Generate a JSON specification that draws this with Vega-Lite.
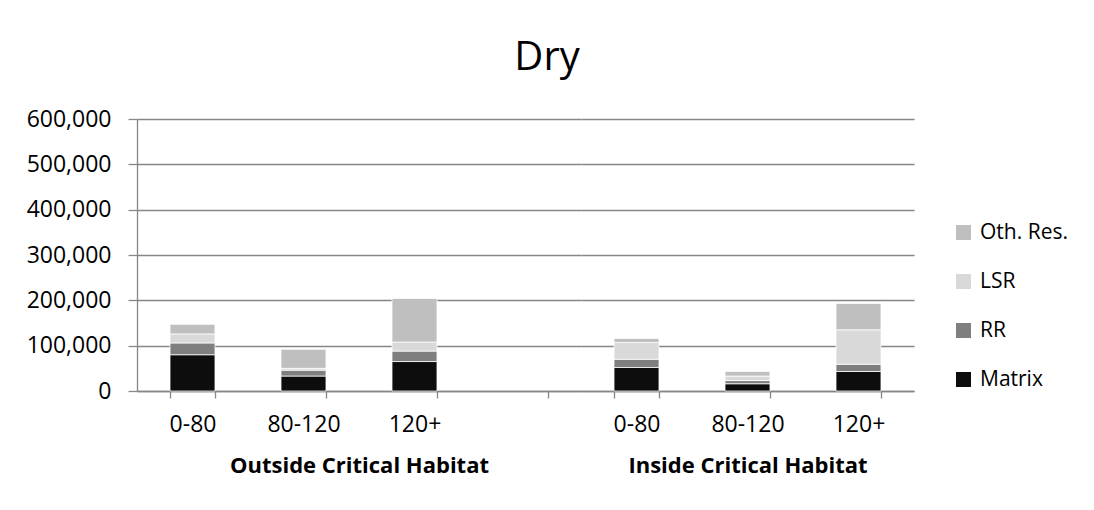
{
  "$schema": "https://vega.github.io/schema/vega-lite/v6.json",
  "background": "white",
  "padding": {"left": 26, "top": 38, "right": 5, "bottom": 5},
  "title": {"text": "Dry", "fontSize": 40, "font": "Open Sans", "fontWeight": "normal", "color": "#000000", "anchor": "middle", "offset": 30},
  "data": {"values": [
    {"group": "Outside Critical Habitat", "range": "0-80", "series": "Matrix", "idx": 1, "value": 80000},
    {"group": "Outside Critical Habitat", "range": "0-80", "series": "RR", "idx": 2, "value": 26000},
    {"group": "Outside Critical Habitat", "range": "0-80", "series": "LSR", "idx": 3, "value": 20000},
    {"group": "Outside Critical Habitat", "range": "0-80", "series": "Oth. Res.", "idx": 4, "value": 21000},
    {"group": "Outside Critical Habitat", "range": "80-120", "series": "Matrix", "idx": 1, "value": 33000},
    {"group": "Outside Critical Habitat", "range": "80-120", "series": "RR", "idx": 2, "value": 13000},
    {"group": "Outside Critical Habitat", "range": "80-120", "series": "LSR", "idx": 3, "value": 4000},
    {"group": "Outside Critical Habitat", "range": "80-120", "series": "Oth. Res.", "idx": 4, "value": 42000},
    {"group": "Outside Critical Habitat", "range": "120+", "series": "Matrix", "idx": 1, "value": 65000},
    {"group": "Outside Critical Habitat", "range": "120+", "series": "RR", "idx": 2, "value": 23000},
    {"group": "Outside Critical Habitat", "range": "120+", "series": "LSR", "idx": 3, "value": 20000},
    {"group": "Outside Critical Habitat", "range": "120+", "series": "Oth. Res.", "idx": 4, "value": 96000},
    {"group": "Inside Critical Habitat", "range": "0-80", "series": "Matrix", "idx": 1, "value": 52000},
    {"group": "Inside Critical Habitat", "range": "0-80", "series": "RR", "idx": 2, "value": 18000},
    {"group": "Inside Critical Habitat", "range": "0-80", "series": "LSR", "idx": 3, "value": 37000},
    {"group": "Inside Critical Habitat", "range": "0-80", "series": "Oth. Res.", "idx": 4, "value": 9000},
    {"group": "Inside Critical Habitat", "range": "80-120", "series": "Matrix", "idx": 1, "value": 16000},
    {"group": "Inside Critical Habitat", "range": "80-120", "series": "RR", "idx": 2, "value": 7000},
    {"group": "Inside Critical Habitat", "range": "80-120", "series": "LSR", "idx": 3, "value": 10000},
    {"group": "Inside Critical Habitat", "range": "80-120", "series": "Oth. Res.", "idx": 4, "value": 10000},
    {"group": "Inside Critical Habitat", "range": "120+", "series": "Matrix", "idx": 1, "value": 43000},
    {"group": "Inside Critical Habitat", "range": "120+", "series": "RR", "idx": 2, "value": 16000},
    {"group": "Inside Critical Habitat", "range": "120+", "series": "LSR", "idx": 3, "value": 76000},
    {"group": "Inside Critical Habitat", "range": "120+", "series": "Oth. Res.", "idx": 4, "value": 58000}
  ]},
  "spacing": 0,
  "hconcat": [
    {
      "width": 444,
      "height": 272,
      "transform": [{"filter": "datum.group === 'Outside Critical Habitat'"}],
      "mark": {"type": "bar", "stroke": "#ffffff", "strokeWidth": 0.75},
      "encoding": {
        "x": {
          "field": "range", "type": "nominal",
          "scale": {"domain": ["0-80", "80-120", "120+", "gap"], "paddingInner": 0.595, "paddingOuter": 0.2975},
          "axis": {"title": "Outside Critical Habitat", "labelExpr": "datum.value === 'gap' ? '' : datum.value"}
        },
        "y": {
          "field": "value", "type": "quantitative", "stack": "zero",
          "scale": {"domain": [0, 600000]},
          "axis": {"title": null, "values": [0, 100000, 200000, 300000, 400000, 500000, 600000], "format": ",d", "grid": true, "tickSize": 9, "labelPadding": 17}
        },
        "color": {
          "field": "series", "type": "nominal",
          "scale": {"domain": ["Oth. Res.", "LSR", "RR", "Matrix"], "range": ["#bfbfbf", "#d9d9d9", "#7f7f7f", "#0d0d0d"]},
          "legend": {"title": null}
        },
        "order": {"field": "idx", "type": "quantitative"}
      }
    },
    {
      "width": 333,
      "height": 272,
      "transform": [{"filter": "datum.group === 'Inside Critical Habitat'"}],
      "mark": {"type": "bar", "stroke": "#ffffff", "strokeWidth": 0.75},
      "encoding": {
        "x": {
          "field": "range", "type": "nominal",
          "scale": {"domain": ["0-80", "80-120", "120+"], "paddingInner": 0.595, "paddingOuter": 0.2975},
          "axis": {"title": "Inside Critical Habitat"}
        },
        "y": {
          "field": "value", "type": "quantitative", "stack": "zero",
          "scale": {"domain": [0, 600000]},
          "axis": {"title": null, "values": [0, 100000, 200000, 300000, 400000, 500000, 600000], "format": ",d", "grid": true, "labels": false, "ticks": false, "domain": false}
        },
        "color": {
          "field": "series", "type": "nominal",
          "scale": {"domain": ["Oth. Res.", "LSR", "RR", "Matrix"], "range": ["#bfbfbf", "#d9d9d9", "#7f7f7f", "#0d0d0d"]},
          "legend": {"title": null}
        },
        "order": {"field": "idx", "type": "quantitative"}
      }
    }
  ],
  "resolve": {"scale": {"x": "independent"}, "axis": {"y": "independent"}},
  "config": {
    "view": {"stroke": null},
    "font": "Open Sans",
    "axis": {
      "labelFont": "Open Sans", "titleFont": "Open Sans",
      "labelColor": "#000000", "titleColor": "#000000",
      "labelFontSize": 23, "titleFontSize": 22,
      "domainColor": "#868686", "tickColor": "#868686", "gridColor": "#868686",
      "domainWidth": 1.3, "tickWidth": 1.3, "gridWidth": 1.3
    },
    "axisX": {
      "labelAngle": 0, "grid": false, "tickBand": "extent", "tickSize": 7,
      "labelPadding": 15, "titleFontWeight": "bold", "titlePadding": 19
    },
    "legend": {
      "orient": "none", "legendX": 816, "legendY": 103,
      "symbolType": "square", "symbolSize": 225, "symbolStrokeWidth": 0,
      "labelFont": "Open Sans", "labelFontSize": 21, "labelColor": "#000000",
      "labelOffset": 6, "rowPadding": 27
    }
  }
}
